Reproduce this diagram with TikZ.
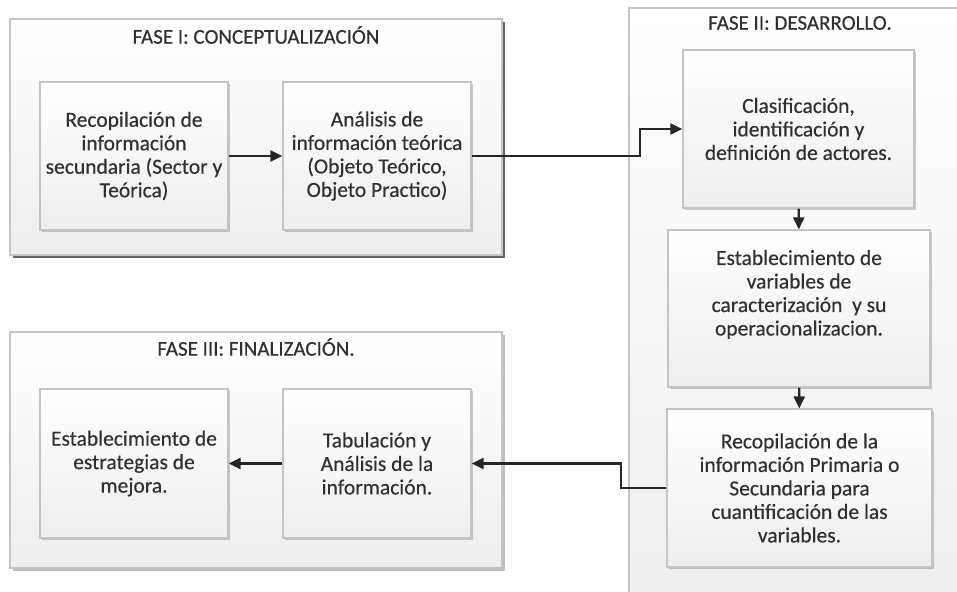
\documentclass[tikz,border=0pt]{standalone}
\usepackage{fontspec}
\setmainfont{Carlito}
\newfontfamily\semib{Carlito}[FakeBold=0.35]
\usetikzlibrary{arrows.meta,shadows}
\definecolor{txt}{HTML}{303030}
\definecolor{brd}{HTML}{C4C4C4}
\definecolor{bot}{HTML}{EEEEEE}
\tikzset{
  phase/.style={draw=brd, line width=1.2pt, top color=white, bottom color=bot, anchor=center, inner sep=0pt},
  phaseshadow/.style={drop shadow={shadow xshift=3pt, shadow yshift=-3pt, fill=black, opacity=0.6}},
  phaseshadowlight/.style={drop shadow={shadow xshift=3pt, shadow yshift=-3pt, fill=black, opacity=0.25}},
  stepbox/.style={draw=brd, line width=1.2pt, top color=white, bottom color=bot, align=center,
    font=\semib\fontsize{21.5}{23.5}\selectfont, text=txt, inner sep=0pt,
    drop shadow={shadow xshift=2pt, shadow yshift=-2pt, fill=black, opacity=0.2}},
  phtitle/.style={font=\semib\fontsize{21}{24}\selectfont, text=txt},
  arr/.style={line width=2.4pt, draw=black!85, -{Triangle[length=12pt,width=11pt]}}
}
\begin{document}
\begin{tikzpicture}[x=1pt,y=-1pt]
\useasboundingbox (0,0) rectangle (957,591);
% phase containers
\node[phase, phaseshadow, minimum width=492pt, minimum height=236pt] (f1) at (256,137) {};
\node[phase, minimum width=336pt, minimum height=600pt] (f2) at (797,308) {};
\node[phase, phaseshadowlight, minimum width=492pt, minimum height=236pt] (f3) at (256,450) {};
% titles
\node[phtitle] (t1) at (256,35) {FASE I: CONCEPTUALIZACIÓN};
\node[phtitle] (t2) at (800,23) {FASE II: DESARROLLO.};
\node[phtitle] (t3) at (256,347) {FASE III: FINALIZACIÓN.};
% steps
\node[stepbox, minimum width=188pt, minimum height=148pt] (b1) at (134,156)
  {Recopilación de\\información\\secundaria (Sector y\\Teórica)};
\node[stepbox, minimum width=188pt, minimum height=148pt] (b2) at (377,156)
  {Análisis de\\información teórica\\(Objeto Teórico,\\Objeto Practico)};
\node[stepbox, minimum width=231pt, minimum height=158pt] (b3) at (798.5,129)
  {Clasificación,\\identificación y\\definición de actores.};
\node[stepbox, minimum width=262pt, minimum height=157pt] (b4) at (799,308.5)
  {Establecimiento de\\variables de\\caracterización\ \ y su\\operacionalizacion.\\[8pt]};
\node[stepbox, minimum width=265pt, minimum height=158pt] (b5) at (799.5,488)
  {Recopilación de la\\información Primaria o\\Secundaria para\\cuantificación de las\\variables.};
\node[stepbox, minimum width=188pt, minimum height=149pt] (b6) at (134,463.5)
  {Establecimiento de\\estrategias de\\mejora.};
\node[stepbox, minimum width=188pt, minimum height=149pt] (b7) at (377,463.5)
  {Tabulación y\\Análisis de la\\información.};
% bend points
\coordinate (k1) at (640,0);
\coordinate (k2) at (621,0);
% connectors
\draw[arr] (b1) -- (b2);
\draw[arr] (b2.east) -- (b2.east -| k1) |- (b3.west);
\draw[arr] (b3) -- (b4);
\draw[arr] (b4) -- (b5);
\draw[arr] (b5.west) -- (b5.west -| k2) |- (b7.east);
\draw[arr] (b7) -- (b6);
\end{tikzpicture}
\end{document}
